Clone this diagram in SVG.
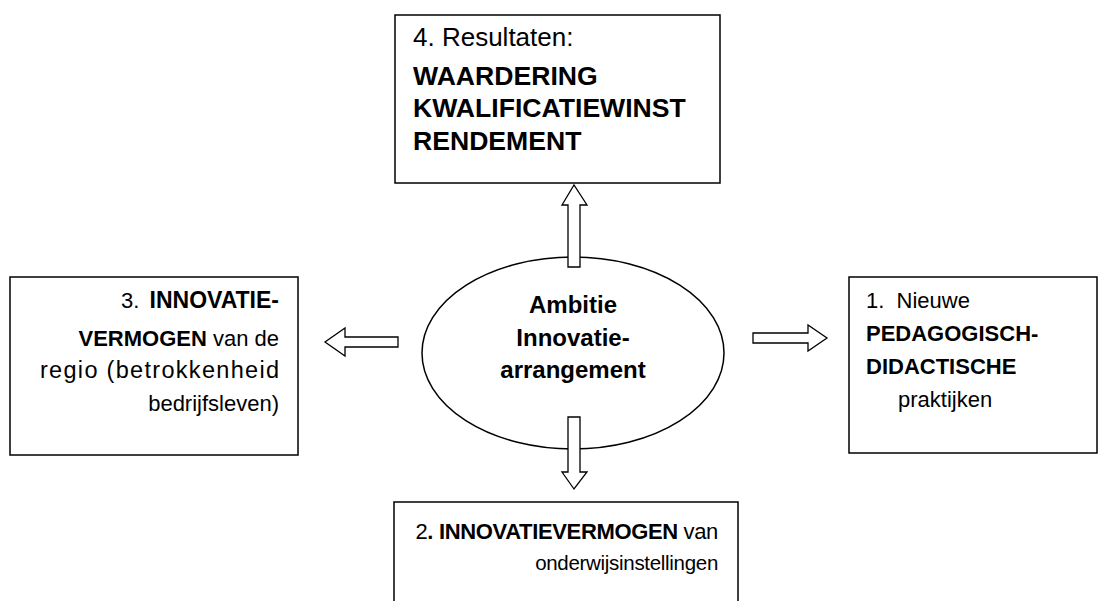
<svg xmlns="http://www.w3.org/2000/svg" width="1103" height="601" viewBox="0 0 1103 601">
<style>
.box{fill:#fff;stroke:#000;stroke-width:1.5}
.arr{fill:#fff;stroke:#000;stroke-width:1.3;stroke-linejoin:miter}
text{font-family:"Liberation Sans",Arial,sans-serif;font-size:22px;fill:#000}
.b{font-weight:bold}
.big{font-size:26px}
.bigb{font-size:26.6px}
.mid{font-size:24px}
</style>
<rect width="1103" height="601" fill="#fff"/>
<g id="node-results">
<rect class="box" x="395" y="15" width="325" height="168"/>
<text class="big" x="413" y="46">4. Resultaten:</text>
<text class="b bigb" x="413" y="85">WAARDERING</text>
<text class="b bigb" x="413" y="117">KWALIFICATIEWINST</text>
<text class="b bigb" x="413" y="150">RENDEMENT</text>
</g>
<g id="node-region">
<rect class="box" x="10" y="277" width="288" height="178"/>
<text x="121" y="308">3.</text>
<text class="b" x="279" y="308" text-anchor="end" style="font-size:23px">INNOVATIE-</text>
<text x="279" y="346" text-anchor="end"><tspan class="b">VERMOGEN</tspan> van de</text>
<text x="40" y="378" style="font-size:23.5px" textLength="239" lengthAdjust="spacing">regio (betrokkenheid</text>
<text x="279" y="411" text-anchor="end">bedrijfsleven)</text>
</g>
<g id="node-practice">
<rect class="box" x="849" y="277" width="248" height="176"/>
<text x="866" y="308" xml:space="preserve">1.  Nieuwe</text>
<text class="b" x="866" y="341">PEDAGOGISCH-</text>
<text class="b" x="866" y="374">DIDACTISCHE</text>
<text x="898" y="407">praktijken</text>
</g>
<g id="node-education">
<rect class="box" x="394" y="502" width="344" height="120"/>
<text x="718" y="539" text-anchor="end" letter-spacing="-0.35">2<tspan class="b">. INNOVATIEVERMOGEN</tspan> van</text>
<text x="718" y="570" text-anchor="end" style="font-size:20.5px" letter-spacing="-0.3">onderwijsinstellingen</text>
</g>
<g id="node-ambition">
<ellipse class="box" cx="573" cy="353" rx="151" ry="96"/>
<text class="b mid" x="573" y="313" text-anchor="middle">Ambitie</text>
<text class="b mid" x="573" y="346" text-anchor="middle">Innovatie-</text>
<text class="b mid" x="573" y="378" text-anchor="middle">arrangement</text>
</g>
<g id="connectors">
<polygon class="arr" points="568,267 568,205 562,205 574,185 587,205 580,205 580,267"/>
<polygon class="arr" points="568,417 580,417 580,472 587,472 574,489 562,472 568,472"/>
<polygon class="arr" points="398,337 398,347 345,347 345,356 325,342 345,328 345,337"/>
<polygon class="arr" points="753,333 808,333 808,325 827,338 808,351 808,343 753,343"/>
</g>
</svg>
